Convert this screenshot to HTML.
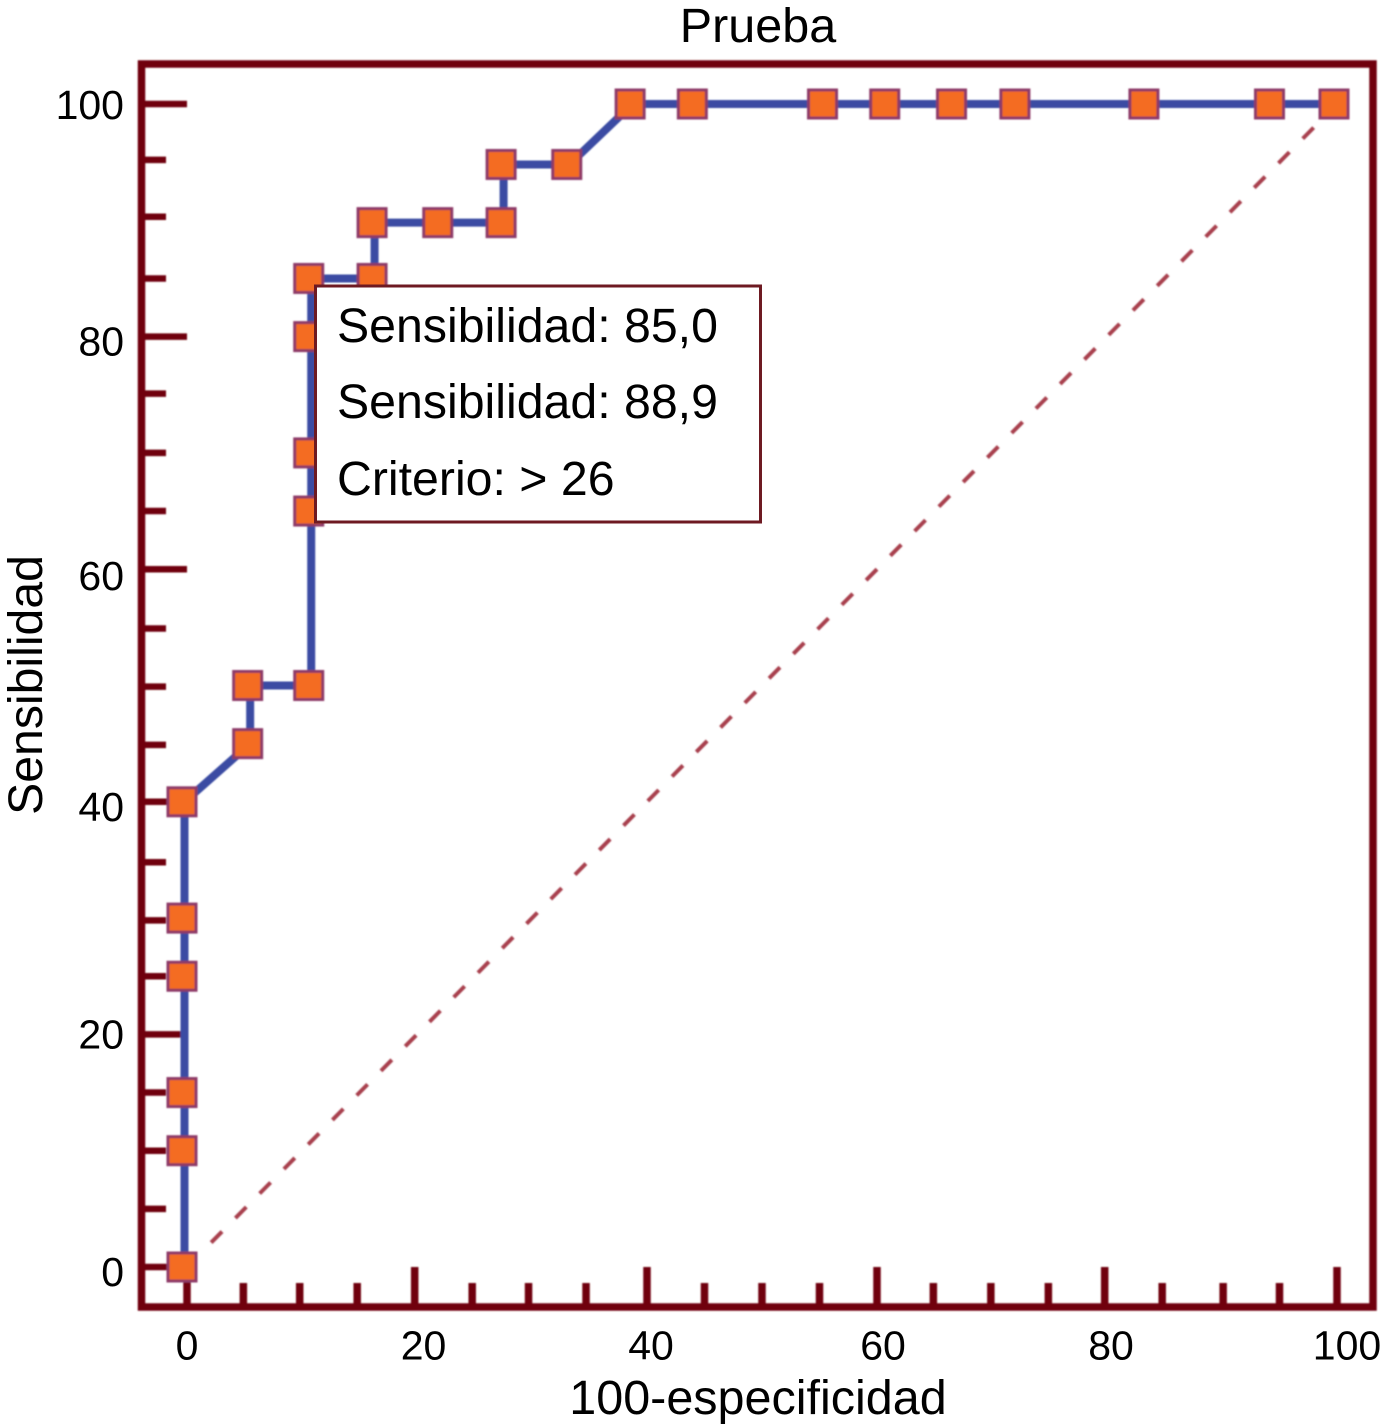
<!DOCTYPE html>
<html lang="es">
<head>
<meta charset="utf-8">
<title>Prueba</title>
<style>
  html, body { margin: 0; padding: 0; background: #fff; }
  svg { display: block; font-family: "Liberation Sans", Arial, sans-serif; }
  text { fill: #000; }
</style>
</head>
<body>
<svg id="chart" width="1382" height="1424" viewBox="0 0 1382 1424" xmlns="http://www.w3.org/2000/svg">
  <defs>
    <filter id="soft" x="-5%" y="-5%" width="110%" height="110%"><feGaussianBlur stdDeviation="0.7"/></filter>
  </defs>
  <rect width="1382" height="1424" fill="#fff"/>
  <text x="758" y="42" font-size="48.5" text-anchor="middle">Prueba</text>
  <text x="758" y="1414" font-size="48.5" text-anchor="middle">100-especificidad</text>
  <text transform="translate(42 685) rotate(-90)" font-size="48.2" text-anchor="middle">Sensibilidad</text>
  <g id="marks" filter="url(#soft)"></g>
  <g id="labels"></g>
  <g id="tooltip">
    <rect x="315.5" y="286" width="445" height="236" fill="#fff" stroke="#6e1a22" stroke-width="3"/>
    <text x="337" y="342" font-size="48.25">Sensibilidad: 85,0</text>
    <text x="337" y="418" font-size="48.25">Sensibilidad: 88,9</text>
    <text x="337" y="495" font-size="48.25">Criterio: &gt; 26</text>
  </g>
</svg>
<script>
const falsePositiveRates = [0, 0, 0, 0, 0, 0, 5.7, 5.7, 11, 11, 11, 11, 11, 16.5, 16.5, 22.2, 27.7, 27.7, 33.4, 38.9, 44.3, 55.6, 61, 66.8, 72.3, 83.5, 94.4, 100];
const sensitivities = [0, 10, 15, 25, 30, 40, 45, 50, 50, 65, 70, 80, 85, 85, 89.8, 89.8, 89.8, 94.8, 94.8, 100, 100, 100, 100, 100, 100, 100, 100, 100];
const xMajorTicks = [0, 19.8, 40, 60, 79.8, 100];
const xMinorTicks = [4.9, 9.8, 14.8, 24.8, 29.7, 34.7, 45, 50, 55, 64.9, 69.9, 74.9, 84.8, 90.1, 95];
const yMajorTicks = [0, 20, 40, 60, 80, 100];
const yMinorTicks = [5, 10, 15, 25, 29.8, 34.8, 44.9, 49.9, 54.9, 65, 70, 75.1, 85, 90.3, 95.2];
const xTickLabels = [0, 20, 40, 60, 80, 100];
const yTickLabels = [0, 20, 40, 60, 80, 100];
const diagonalEnds = [2.1, 98.4];

const NS = 'http://www.w3.org/2000/svg';
const marks = document.getElementById('marks');
const labels = document.getElementById('labels');
const DARK = '#70040f';

function axisX(v) { return 187 + v * 11.5; }
function axisY(v) { return 1267 - v * 11.63; }
function markerX(v) { return 182 + v * 11.52; }
function lineX(v) { return markerX(v) + 2.5; }

function xLabelPos(v) {
  const shift = { 0: 0, 20: 6.5, 40: 4, 60: 6, 80: 4, 100: 10 };
  return axisX(v) + shift[v];
}
function yLabelPos(v) {
  const shift = { 0: 19, 20: 14, 40: 19, 60: 21, 80: 19, 100: 15 };
  return axisY(v) + shift[v];
}

function make(tag, attrs, parent) {
  const el = document.createElementNS(NS, tag);
  for (const k in attrs) el.setAttribute(k, attrs[k]);
  parent.appendChild(el);
  return el;
}

function drawYTick(v, end) {
  const t = make('line', { x1: 141, x2: end, y1: axisY(v), y2: axisY(v), stroke: DARK, 'stroke-width': 6.5 }, marks);
  
  
}
function drawXTick(v, top) {
  const t = make('line', { x1: axisX(v), x2: axisX(v), y1: 1307, y2: top, stroke: DARK, 'stroke-width': 7.5 }, marks);
  
  
}
yMajorTicks.forEach(function (v) { drawYTick(v, 187); });
yMinorTicks.forEach(function (v) { drawYTick(v, 166); });
xMajorTicks.forEach(function (v) { drawXTick(v, 1267); });
xMinorTicks.forEach(function (v) { drawXTick(v, 1283); });

// frame
const frame = make('rect', { x: 141.5, y: 64, width: 1231.5, height: 1243, fill: 'none', stroke: DARK, 'stroke-width': 7.5 }, marks);



// reference diagonal
const diagonal = make('line', {
  x1: axisX(diagonalEnds[0]), y1: axisY(diagonalEnds[0]),
  x2: axisX(diagonalEnds[1]), y2: axisY(diagonalEnds[1]),
  stroke: '#a8404e', 'stroke-width': 4, 'stroke-dasharray': '15.5 19'
}, marks);



// ROC line
const rocPoints = falsePositiveRates.map(function (v, i) {
  return lineX(v) + ',' + axisY(sensitivities[i]);
}).join(' ');
const rocLine = make('polyline', { points: rocPoints, fill: 'none', stroke: '#3b4ca3', 'stroke-width': 8, 'stroke-linejoin': 'round' }, marks);



// markers
falsePositiveRates.forEach(function (v, i) {
  const size = 28;
  const m = make('rect', {
    x: markerX(v) - size / 2, y: axisY(sensitivities[i]) - size / 2,
    width: size, height: size, fill: '#f46c22', stroke: '#8e3b68', 'stroke-width': 3
  }, marks);
  
  
});

// tick labels
xTickLabels.forEach(function (v) {
  const t = make('text', { x: xLabelPos(v), y: 1359.5, 'font-size': 41, 'text-anchor': 'middle' }, labels);
  
  
  t.textContent = v;
});
yTickLabels.forEach(function (v) {
  const t = make('text', { x: 124, y: yLabelPos(v), 'font-size': 41, 'text-anchor': 'end' }, labels);
  
  
  t.textContent = v;
});
</script>
</body>
</html>
